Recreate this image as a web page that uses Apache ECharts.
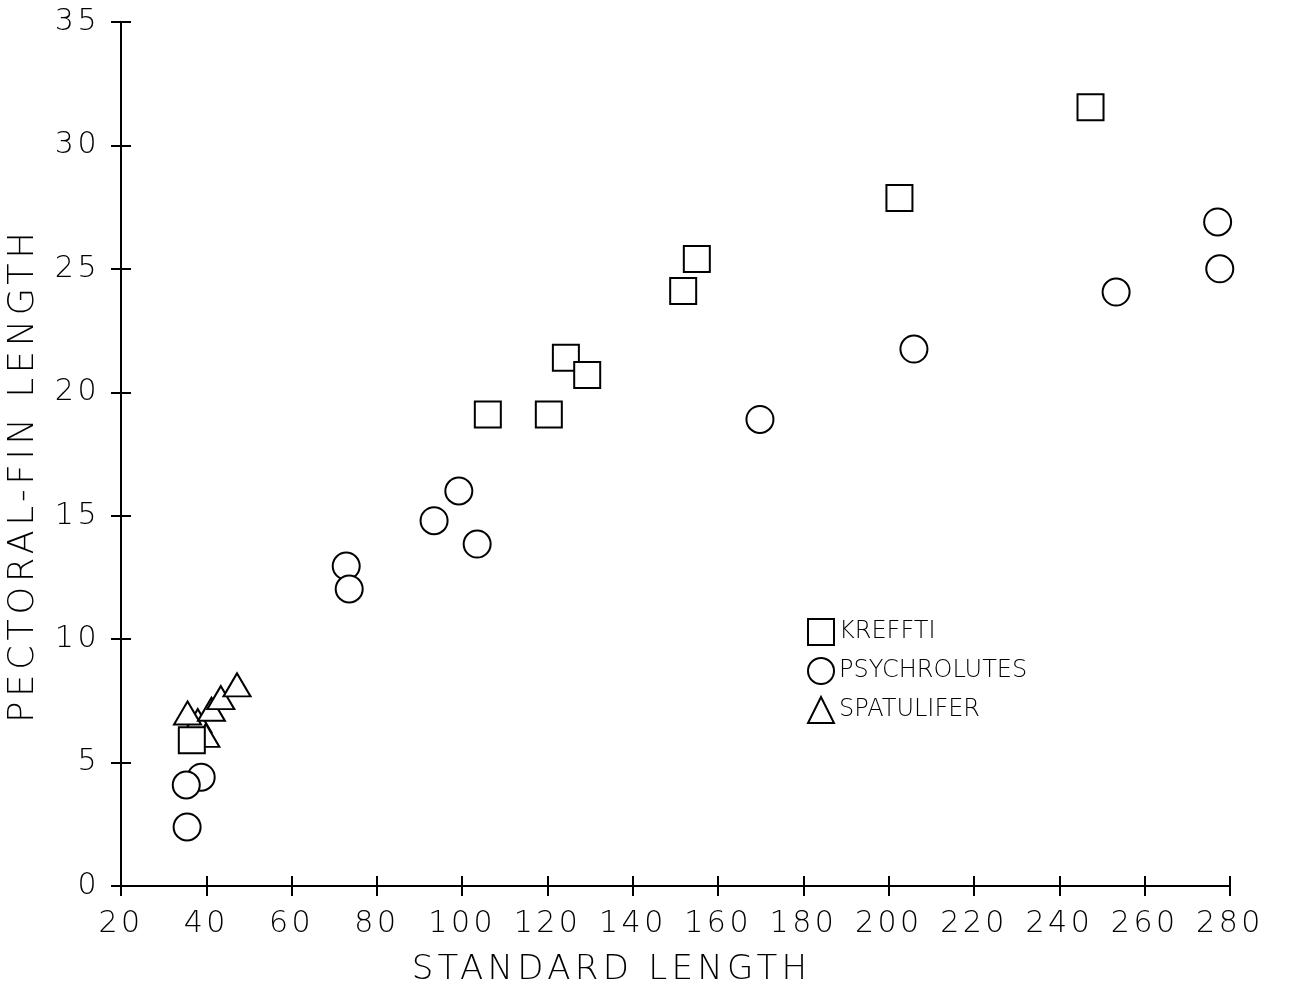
<!DOCTYPE html>
<html>
<head>
<meta charset="utf-8">
<script src="https://cdn.jsdelivr.net/npm/echarts@6/dist/echarts.min.js"></script>
<style>
  html, body { margin: 0; padding: 0; background: #fff; }
  #chart { width: 1301px; height: 987px; }
</style>
</head>
<body>
<div id="chart"></div>
<script>
// Pectoral-fin length vs. standard length for three species
const krefftiSL = [247.3, 202.5, 155.0, 151.8, 124.3, 129.3, 106.0, 120.3, 36.6];
const krefftiPF = [31.55, 27.87, 25.4, 24.1, 21.4, 20.7, 19.1, 19.1, 5.9];

const psychrolutesSL = [277.1, 277.6, 253.3, 205.9, 169.8, 99.2, 93.4, 103.5, 72.8, 73.5, 38.8, 35.3, 35.5];
const psychrolutesPF = [26.9, 25.0, 24.06, 21.75, 18.9, 16.0, 14.8, 13.85, 12.96, 12.03, 4.41, 4.09, 2.39];

const spatuliferSL = [38.0, 39.9, 35.6, 41.2, 43.4, 47.2];
const spatuliferPF = [6.7, 6.1, 7.01, 7.16, 7.63, 8.15];

const xTicks = { min: 20, max: 280, interval: 20 };
const yTicks = { min: 0, max: 35, interval: 5 };

const FONT = 'DejaVu Sans';
const INK = '#000';

// Plotter-style lettering is widely tracked; spacing depends on the text size.
(function () {
  const desc = Object.getOwnPropertyDescriptor(CanvasRenderingContext2D.prototype, 'font');
  if (!desc || !desc.set) return;
  const trackingFor = (px) => (px >= 35 ? 4.8 : px >= 32 ? 4.3 : px >= 28 ? 3.5 : 0);
  Object.defineProperty(CanvasRenderingContext2D.prototype, 'font', {
    configurable: true,
    get() { return desc.get.call(this); },
    set(v) {
      desc.set.call(this, v);
      const m = /(\d+(?:\.\d+)?)px/.exec(v);
      if ('letterSpacing' in this) this.letterSpacing = trackingFor(m ? +m[1] : 12) + 'px';
    }
  });
})();

const pairs = (xs, ys) => xs.map((x, i) => [x, ys[i]]);

const markStyle = { color: '#fff', borderColor: INK, borderWidth: 2, opacity: 1 };
const tickLine = { color: INK, width: 2 };
const plotBox = { left: 121, right: 71, top: 22, bottom: 101, containLabel: false, outerBoundsMode: 'none' };

const chart = echarts.init(document.getElementById('chart'));

const baseX = {
  type: 'value', min: xTicks.min, max: xTicks.max, interval: xTicks.interval,
  position: 'bottom', splitLine: { show: false }
};
const baseY = {
  type: 'value', min: yTicks.min, max: yTicks.max, interval: yTicks.interval,
  position: 'left', splitLine: { show: false }
};

chart.setOption({
  backgroundColor: '#fff',
  animation: false,
  // second grid shares the plot box and carries the inner half of each cross tick
  grid: [Object.assign({}, plotBox), Object.assign({}, plotBox)],
  xAxis: [
    Object.assign({}, baseX, {
      gridIndex: 0,
      name: 'STANDARD LENGTH',
      nameLocation: 'middle',
      nameGap: 65,
      nameTextStyle: { fontFamily: FONT, fontSize: 34, fontWeight: 200, color: INK, padding: [0, 128, 0, 0] },
      axisLine: { show: true, lineStyle: { color: INK, width: 2 } },
      axisTick: { show: true, length: 10, lineStyle: tickLine },
      axisLabel: { margin: 21, fontFamily: FONT, fontSize: 30, fontWeight: 200, color: INK }
    }),
    Object.assign({}, baseX, {
      gridIndex: 1,
      axisLine: { show: false },
      axisTick: { show: true, inside: true, length: 10, lineStyle: tickLine },
      axisLabel: { show: false }
    })
  ],
  yAxis: [
    Object.assign({}, baseY, {
      gridIndex: 0,
      name: 'PECTORAL-FIN LENGTH',
      nameLocation: 'middle',
      nameGap: 62,
      nameRotate: 90,
      nameTextStyle: { fontFamily: FONT, fontSize: 35, fontWeight: 200, color: INK, padding: [0, 42, 0, 0] },
      axisLine: { show: true, lineStyle: { color: INK, width: 2 } },
      axisTick: { show: true, length: 10, lineStyle: tickLine },
      axisLabel: { margin: 21, fontFamily: FONT, fontSize: 30, fontWeight: 200, color: INK }
    }),
    Object.assign({}, baseY, {
      gridIndex: 1,
      axisLine: { show: false },
      axisTick: { show: true, inside: true, length: 10, lineStyle: tickLine },
      axisLabel: { show: false }
    })
  ],
  legend: {
    orient: 'vertical',
    left: 802,
    top: 613,
    itemWidth: 26,
    itemHeight: 26,
    itemGap: 11,
    textStyle: { fontFamily: FONT, fontSize: 24, fontWeight: 200, color: INK },
    data: [
      { name: 'KREFFTI', icon: 'rect' },
      { name: 'PSYCHROLUTES', icon: 'circle' },
      { name: 'SPATULIFER', icon: 'triangle' }
    ]
  },
  series: [
    {
      name: 'PSYCHROLUTES', type: 'scatter', symbol: 'circle', symbolSize: 27,
      xAxisIndex: 0, yAxisIndex: 0, z: 2,
      itemStyle: markStyle, emphasis: { disabled: true },
      data: pairs(psychrolutesSL, psychrolutesPF)
    },
    {
      name: 'SPATULIFER', type: 'scatter', symbol: 'triangle', symbolSize: [27, 23],
      xAxisIndex: 0, yAxisIndex: 0, z: 3,
      itemStyle: markStyle, emphasis: { disabled: true },
      data: pairs(spatuliferSL, spatuliferPF)
    },
    {
      name: 'KREFFTI', type: 'scatter', symbol: 'rect', symbolSize: 26,
      xAxisIndex: 0, yAxisIndex: 0, z: 4,
      itemStyle: markStyle, emphasis: { disabled: true },
      data: pairs(krefftiSL, krefftiPF)
    }
  ]
});
</script>
</body>
</html>
